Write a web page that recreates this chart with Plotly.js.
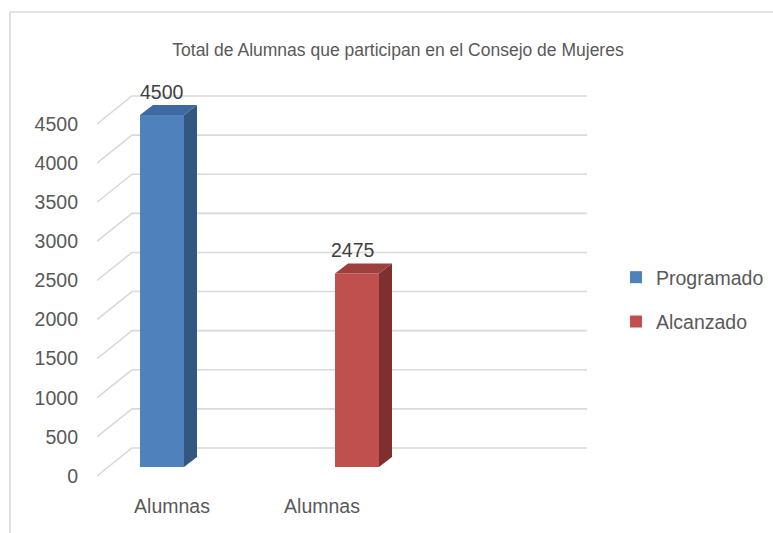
<!DOCTYPE html>
<html>
<head>
<meta charset="utf-8">
<script src="https://cdn.plot.ly/plotly-3.0.1.min.js"></script>
<style>html,body{margin:0;padding:0;background:#fff;}#chart{width:773px;height:533px;}</style>
</head>
<body>
<div id="chart"></div>
<script>
// ---- data ----
var chartTitle = 'Total de Alumnas que participan en el Consejo de Mujeres';
var seriesNames = ['Programado', 'Alcanzado'];
var categoryLabels = ['Alumnas', 'Alumnas'];
var seriesValues = [4500, 2475];
var tickValues = [0, 500, 1000, 1500, 2000, 2500, 3000, 3500, 4000, 4500];

// ---- style ----
var frontColors = ['#4F81BD', '#C0504D'];
var sideColors = ['#34577F', '#7E302E'];
var topColors = ['#3E69A3', '#A0403E'];
var FONT = '"Liberation Sans",Arial,sans-serif';
var TXT = '#595959';

// geometry (pixels -> axis units)
var W = 773, H = 533;
var mL = 97, mR = 173, mT = 80, mB = 43;
var plotW = W - mL - mR, plotH = H - mT - mB;
var pxPerX = 195;                    // pixels per category step
var kY = 352 / 4500;                 // pixels per value unit
var yZeroPx = 476;                   // value 0 on the label plane
var barLift = 9 / kY;                // front of bars vs label plane
var wallLift = 28 / kY;              // back wall vs label plane
var wallDx = 35 / pxPerX;
var barW = 44 / pxPerX;
var depthDx = 13 / pxPerX, depthDy = 10 / kY;
var xLeft = -65 / pxPerX;
var xRange = [xLeft, xLeft + plotW / pxPerX];
var yRange = [-(mT + plotH - yZeroPx) / kY, (yZeroPx - mT) / kY];
var y2Range = [yRange[0] - barLift, yRange[1] - barLift];
var wallEndX = xLeft + (587 - 97) / pxPerX;

var traces = [];
// back wall gridlines and left diagonals
tickValues.forEach(function (v) {
  traces.push({
    type: 'scatter', mode: 'lines', x: [xLeft, xLeft + wallDx, wallEndX],
    y: [v, v + wallLift, v + wallLift], yaxis: 'y',
    line: {color: '#D9D9D9', width: 1.6}, hoverinfo: 'skip', showlegend: false
  });
});
// bars front faces
seriesValues.forEach(function (v, i) {
  traces.push({
    type: 'bar', name: seriesNames[i], x: [i], y: [v], width: barW, yaxis: 'y2',
    marker: {color: frontColors[i], line: {width: 0}}, legendgroup: 'g' + i, hoverinfo: 'skip'
  });
});
// side and top faces
seriesValues.forEach(function (v, i) {
  var xl = i - barW / 2, xr = i + barW / 2;
  traces.push({
    type: 'scatter', mode: 'lines', fill: 'toself', fillcolor: sideColors[i],
    x: [xr, xr + depthDx, xr + depthDx, xr, xr],
    y: [0, depthDy, v + depthDy, v, 0], yaxis: 'y2',
    line: {width: 0, color: sideColors[i]}, hoverinfo: 'skip', showlegend: false
  });
  traces.push({
    type: 'scatter', mode: 'lines', fill: 'toself', fillcolor: topColors[i],
    x: [xl, xr, xr + depthDx, xl + depthDx, xl],
    y: [v, v, v + depthDy, v + depthDy, v], yaxis: 'y2',
    line: {width: 0, color: topColors[i]}, hoverinfo: 'skip', showlegend: false
  });
});

var annotations = seriesValues.map(function (v, i) {
  return {
    x: i, y: v, xref: 'x', yref: 'y2', text: String(v), showarrow: false,
    yanchor: 'bottom', yshift: 10, xshift: i === 1 ? -4 : 0,
    font: {family: FONT, size: 19.5, color: '#404040'}
  };
});

var layout = {
  width: W, height: H,
  margin: {l: mL, r: mR, t: mT, b: mB, pad: 0, autoexpand: false},
  paper_bgcolor: '#ffffff', plot_bgcolor: 'rgba(0,0,0,0)',
  font: {family: FONT, size: 19.5, color: TXT},
  title: {text: chartTitle, font: {family: FONT, size: 17.5, color: TXT},
          x: 398 / W, xanchor: 'center', xref: 'container',
          y: 1 - 50 / H, yanchor: 'middle', yref: 'container'},
  barmode: 'overlay',
  xaxis: {range: xRange, showgrid: false, zeroline: false, showline: false, automargin: false,
          tickmode: 'array', tickvals: [10 / pxPerX, 1 - 35 / pxPerX], ticktext: categoryLabels,
          ticks: '', ticklabelstandoff: 2, tickfont: {family: FONT, size: 19.5, color: TXT}, fixedrange: true},
  yaxis: {range: yRange, showgrid: false, zeroline: false, showline: false, automargin: false,
          tickmode: 'array', tickvals: tickValues, ticks: '', ticklabelstandoff: 18,
          tickfont: {family: FONT, size: 19.5, color: TXT}, fixedrange: true},
  yaxis2: {range: y2Range, overlaying: 'y', showgrid: false, zeroline: false, showline: false,
           showticklabels: false, fixedrange: true},
  showlegend: true,
  legend: {x: (616 - mL) / plotW, y: 1 - (258 - mT) / plotH, xanchor: 'left', yanchor: 'top',
           traceorder: 'grouped', tracegroupgap: 16,
           font: {family: FONT, size: 19.5, color: TXT}, bgcolor: 'rgba(0,0,0,0)'},
  shapes: [{type: 'rect', xref: 'paper', yref: 'paper',
            x0: (10 - mL) / plotW, x1: (790 - mL) / plotW,
            y0: -(60) / plotH, y1: (mT + plotH - 12) / plotH,
            line: {color: '#D9D9D9', width: 1.5}, layer: 'below'}],
  annotations: annotations
};

Plotly.newPlot('chart', traces, layout, {displayModeBar: false, staticPlot: true});
</script>
</body>
</html>
